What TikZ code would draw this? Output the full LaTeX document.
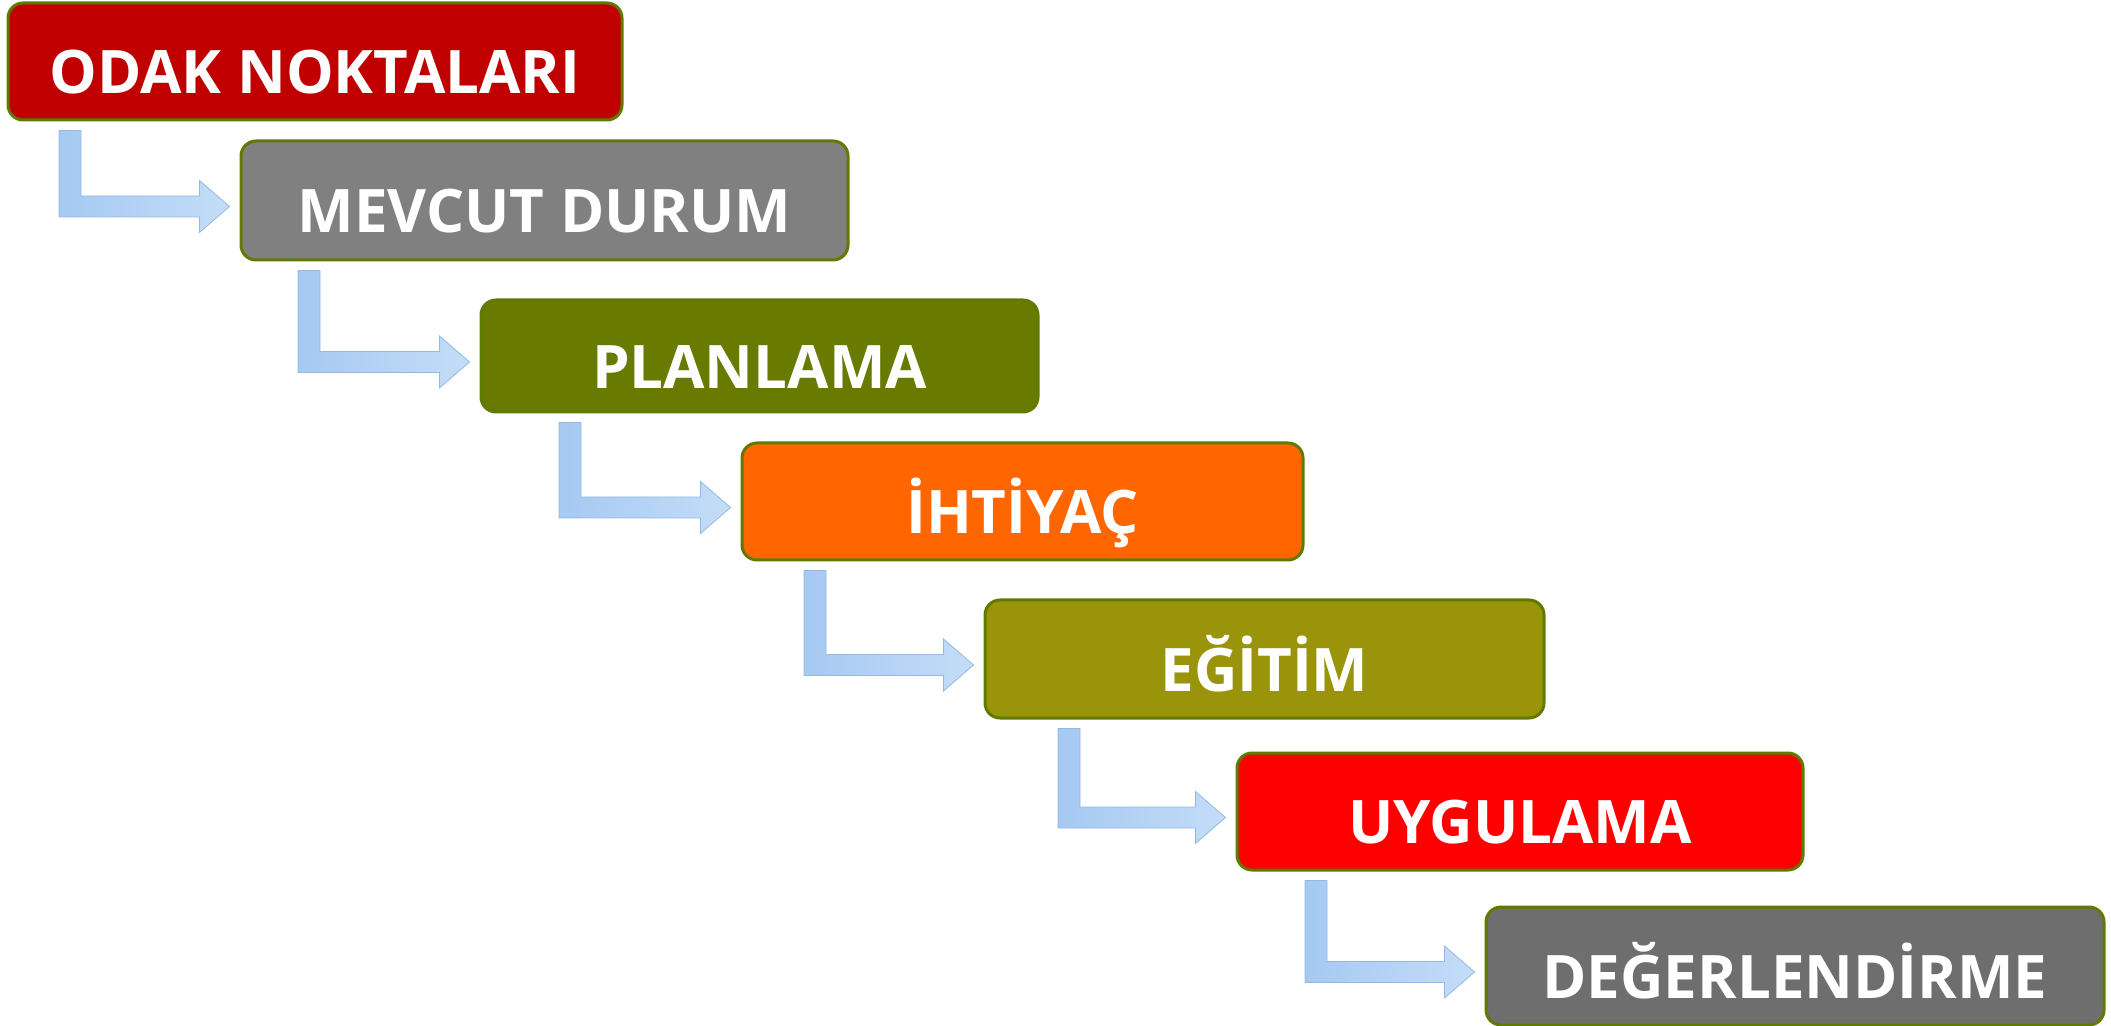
\documentclass[tikz,border=0pt]{standalone}
\usepackage{fontspec}
\setmainfont{Open Sans}
\usetikzlibrary{calc}
\definecolor{cA}{RGB}{192,0,0}
\definecolor{cB}{RGB}{128,128,128}
\definecolor{cC}{RGB}{104,122,0}
\definecolor{cD}{RGB}{255,102,0}
\definecolor{cE}{RGB}{154,148,10}
\definecolor{cF}{RGB}{255,0,0}
\definecolor{cG}{RGB}{110,110,110}
\definecolor{edge}{RGB}{96,122,0}
\definecolor{arrL}{RGB}{166,201,242}
\definecolor{arrR}{RGB}{196,221,248}
\definecolor{arrEdge}{RGB}{150,185,225}
\tikzset{
  stage/.style={draw=edge, line width=1.5pt, rounded corners=7.5pt, inner sep=0pt,
    text=white, font=\bfseries\fontsize{30}{36}\selectfont, text height=32.4pt, text depth=0pt},
  elbowarrow/.style={left color=arrL, right color=arrR, draw=arrEdge, line width=0.4pt}
}
\newcommand{\elbow}[3]{%
  \coordinate (L) at (#3,0);
  \coordinate (R) at (#3+22,0);
  \path ($(#1.south)+(0,9)$) coordinate (top) ($(#2.west)+(-10,6)$) coordinate (tip);
  \path[elbowarrow] (L |- top) -- (R |- top) -- ($(R |- tip)+(0,-10.5)$)
    -- ($(tip)+(-30,-10.5)$) -- ($(tip)+(-30,-26)$) -- (tip) -- ($(tip)+(-30,26)$)
    -- ($(tip)+(-30,10.5)$) -- ($(L |- tip)+(0,10.5)$) -- cycle;
}
\begin{document}
\begin{tikzpicture}[x=0.5pt,y=-0.5pt]
\useasboundingbox[fill=white] (0,0) rectangle (2111,1026);
\node[stage, fill=cA, minimum width=307pt, minimum height=58.5pt] (b1) at (315,61.5) {ODAK NOKTALARI};
\node[stage, fill=cB, minimum width=303.5pt, minimum height=59.5pt] (b2) at (544.5,200.5) {MEVCUT DURUM};
\node[stage, fill=cC, minimum width=278.5pt, minimum height=56pt] (b3) at (759.5,356) {PLANLAMA};
\node[stage, fill=cD, minimum width=280.5pt, minimum height=58.5pt] (b4) at (1022.5,501.5) {İHTİYAÇ};
\node[stage, fill=cE, minimum width=279.5pt, minimum height=59pt] (b5) at (1264.5,659) {EĞİTİM};
\node[stage, fill=cF, minimum width=283pt, minimum height=58.5pt] (b6) at (1520,811.5) {UYGULAMA};
\node[stage, fill=cG, minimum width=309pt, minimum height=59pt] (b7) at (1795,966) {DEĞERLENDİRME};
\elbow{b1}{b2}{59}
\elbow{b2}{b3}{298}
\elbow{b3}{b4}{559}
\elbow{b4}{b5}{804}
\elbow{b5}{b6}{1058}
\elbow{b6}{b7}{1305}
\end{tikzpicture}
\end{document}
